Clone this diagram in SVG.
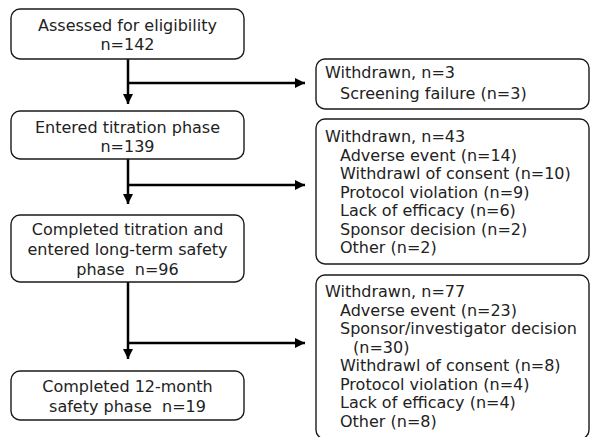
<svg xmlns="http://www.w3.org/2000/svg" width="595" height="437" viewBox="0 0 595 437">
<style>
.box{fill:#fff;stroke:#1a1a1a;stroke-width:1.4}
.t{font-family:"DejaVu Sans",sans-serif;font-size:16px;fill:#222;white-space:pre}
.c{text-anchor:middle}
.ln{stroke:#000;stroke-width:2.5;fill:none}
</style>
<defs>
<marker id="ah" markerUnits="userSpaceOnUse" markerWidth="11" markerHeight="10" refX="10" refY="5" orient="auto">
<path d="M0,0 L10,5 L0,10 Z" fill="#000"/>
</marker>
</defs>
<rect width="595" height="437" fill="#fff"/>
<g id="connectors">
<line class="ln" x1="128" y1="59" x2="128" y2="104" marker-end="url(#ah)"/>
<line class="ln" x1="128" y1="83" x2="305" y2="83" marker-end="url(#ah)"/>
<line class="ln" x1="128" y1="159" x2="128" y2="204" marker-end="url(#ah)"/>
<line class="ln" x1="128" y1="185" x2="305" y2="185" marker-end="url(#ah)"/>
<line class="ln" x1="128" y1="282" x2="128" y2="359" marker-end="url(#ah)"/>
<line class="ln" x1="128" y1="343" x2="305" y2="343" marker-end="url(#ah)"/>
</g>
<g id="assessed">
<rect class="box" x="11" y="9" width="233" height="50" rx="9"/>
<text class="t c" x="127.5" y="31">Assessed for eligibility</text>
<text class="t c" x="127.5" y="50">n=142</text>
</g>
<g id="titration">
<rect class="box" x="11" y="111" width="233" height="48" rx="9"/>
<text class="t c" x="127.5" y="133">Entered titration phase</text>
<text class="t c" x="127.5" y="152">n=139</text>
</g>
<g id="longterm">
<rect class="box" x="11" y="215" width="233" height="67" rx="9"/>
<text class="t c" x="127.5" y="235">Completed titration and</text>
<text class="t c" x="127.5" y="255">entered long-term safety</text>
<text class="t c" x="127.5" y="275">phase  n=96</text>
</g>
<g id="completed">
<rect class="box" x="11" y="371" width="233" height="49" rx="9"/>
<text class="t c" x="127.5" y="392">Completed 12-month</text>
<text class="t c" x="127.5" y="412">safety phase  n=19</text>
</g>
<g id="withdrawn1">
<rect class="box" x="316" y="59" width="273" height="50" rx="9"/>
<text class="t" x="325" y="78">Withdrawn, n=3</text>
<text class="t" x="340" y="99">Screening failure (n=3)</text>
</g>
<g id="withdrawn2">
<rect class="box" x="316" y="119" width="273" height="145" rx="9"/>
<text class="t" x="325" y="142">Withdrawn, n=43</text>
<text class="t" x="340" y="160.5">Adverse event (n=14)</text>
<text class="t" x="340" y="179">Withdrawl of consent (n=10)</text>
<text class="t" x="340" y="197.5">Protocol violation (n=9)</text>
<text class="t" x="340" y="216">Lack of efficacy (n=6)</text>
<text class="t" x="340" y="234.5">Sponsor decision (n=2)</text>
<text class="t" x="340" y="253">Other (n=2)</text>
</g>
<g id="withdrawn3">
<rect class="box" x="316" y="275" width="273" height="164" rx="9"/>
<text class="t" x="325" y="297">Withdrawn, n=77</text>
<text class="t" x="340" y="315.5">Adverse event (n=23)</text>
<text class="t" x="340" y="334">Sponsor/investigator decision</text>
<text class="t" x="353" y="352.5">(n=30)</text>
<text class="t" x="340" y="371">Withdrawl of consent (n=8)</text>
<text class="t" x="340" y="389.5">Protocol violation (n=4)</text>
<text class="t" x="340" y="408">Lack of efficacy (n=4)</text>
<text class="t" x="340" y="426.5">Other (n=8)</text>
</g>
</svg>
